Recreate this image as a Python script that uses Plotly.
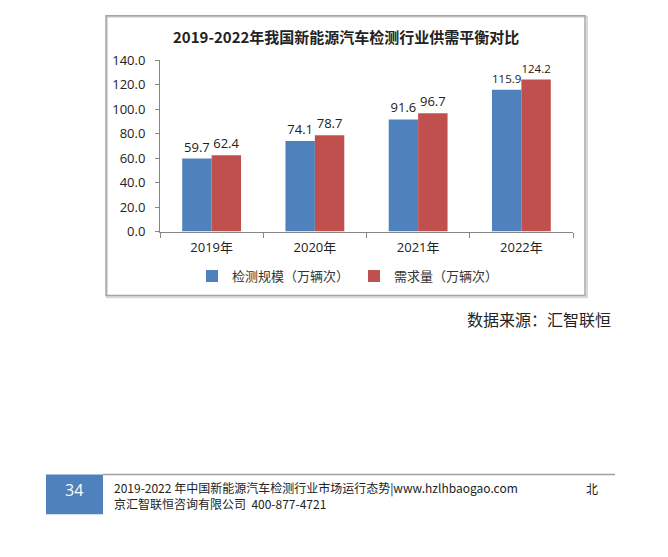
import plotly.graph_objects as go

categories = ["2019年", "2020年", "2021年", "2022年"]
detect_scale = [59.7, 74.1, 91.6, 115.9]
demand = [62.4, 78.7, 96.7, 124.2]
series_names = ["检测规模（万辆次）", "需求量（万辆次）"]
y_ticks = [0, 20, 40, 60, 80, 100, 120, 140]
y_tick_labels = ["0.0", "20.0", "40.0", "60.0", "80.0", "100.0", "120.0", "140.0"]

W, H = 668, 557
def px(x):
    return x / W
def py(y):
    return 1 - y / H

FONT = "Open Sans, Noto Sans CJK SC, sans-serif"
CJK = "Noto Sans CJK SC, sans-serif"

fig = go.Figure()
fig.add_trace(go.Bar(
    x=categories, y=detect_scale, name=series_names[0],
    marker=dict(color="#4F81BD", line=dict(width=0)),
    text=[f"{v:.1f}" for v in detect_scale], textposition="outside",
    textfont=dict(size=13, color="#222", family=FONT), cliponaxis=False,
))
fig.add_trace(go.Bar(
    x=categories, y=demand, name=series_names[1],
    marker=dict(color="#C0504D", line=dict(width=0)),
    text=[f"{v:.1f}" for v in demand], textposition="outside",
    textfont=dict(size=13, color="#222", family=FONT), cliponaxis=False,
))

fig.update_layout(
    width=W, height=H,
    margin=dict(l=0, r=0, t=0, b=0),
    paper_bgcolor="white", plot_bgcolor="white",
    barmode="group", bargap=0.43, bargroupgap=0,
    font=dict(family=FONT, size=13, color="#222"),
    showlegend=True,
    legend=dict(orientation="h", x=px(348), y=py(276), xanchor="center", yanchor="middle",
                font=dict(family=CJK, size=13, color="#333"),
                itemwidth=30, bgcolor="rgba(0,0,0,0)", tracegroupgap=0),
    xaxis=dict(domain=[px(160), px(573)], showline=True, linecolor="#868686", linewidth=1,
               ticks="outside", tickson="boundaries", ticklen=5, tickcolor="#868686",
               tickfont=dict(family=FONT, size=13, color="#222"), ticklabelstandoff=4,
               showgrid=False, zeroline=False, fixedrange=True),
    yaxis=dict(domain=[py(230), py(53)], range=[0, 140], tickvals=y_ticks, ticktext=y_tick_labels,
               showline=True, linecolor="#868686", linewidth=1, ticks="outside", ticklen=4,
               tickcolor="#868686", tickfont=dict(family=FONT, size=13, color="#222"),
               ticklabelstandoff=7, showgrid=False, zeroline=False),
)

shapes = [
    dict(type="rect", xref="paper", yref="paper", x0=px(107), y0=py(298), x1=px(587), y1=py(8),
         line=dict(color="#D8D8D8", width=2), layer="below"),
    dict(type="rect", xref="paper", yref="paper", x0=px(106), y0=py(296), x1=px(585), y1=py(7),
         line=dict(color="#A6A6A6", width=1.5), layer="below"),
    dict(type="line", xref="paper", yref="paper", x0=px(103), y0=py(481), x1=px(615), y1=py(481),
         line=dict(color="#A0A0A0", width=1.5)),
    dict(type="rect", xref="paper", yref="paper", x0=px(46), y0=py(522), x1=px(103), y1=py(481),
         fillcolor="#4F81BD", line=dict(width=0)),
]
fig.update_layout(shapes=shapes)

annotations = [
    dict(text="<b>2019-2022年我国新能源汽车检测行业供需平衡对比</b>", x=px(346), y=py(28),
         xref="paper", yref="paper", showarrow=False, xanchor="center", yanchor="middle",
         font=dict(family=CJK, size=15, color="#222")),
    dict(text="数据来源：汇智联恒", x=px(465), y=py(320), xref="paper", yref="paper",
         showarrow=False, xanchor="left", yanchor="middle",
         font=dict(family=CJK, size=16, color="#222")),
    dict(text="34", x=px(74), y=py(497), xref="paper", yref="paper", showarrow=False,
         xanchor="center", yanchor="middle", font=dict(family=FONT, size=16, color="white")),
    dict(text="2019-2022 年中国新能源汽车检测行业市场运行态势|www.hzlhbaogao.com", x=px(112), y=py(495),
         xref="paper", yref="paper", showarrow=False, xanchor="left", yanchor="middle",
         font=dict(family=CJK, size=12, color="#222")),
    dict(text="北", x=px(592), y=py(495), xref="paper", yref="paper", showarrow=False,
         xanchor="center", yanchor="middle", font=dict(family=CJK, size=12, color="#222")),
    dict(text="京汇智联恒咨询有限公司  400-877-4721", x=px(112), y=py(511), xref="paper", yref="paper",
         showarrow=False, xanchor="left", yanchor="middle", font=dict(family=CJK, size=12, color="#222")),
]
fig.update_layout(annotations=annotations)

fig.write_html("out.html")
